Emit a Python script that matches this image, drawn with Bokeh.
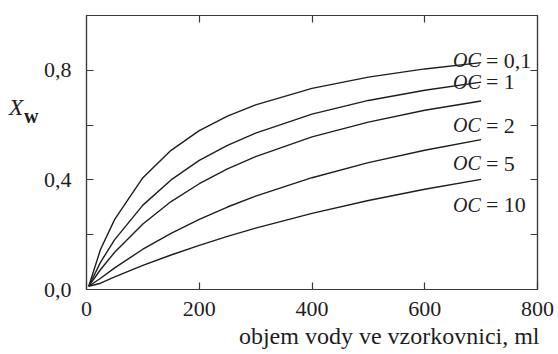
from bokeh.plotting import figure
from bokeh.models import FixedTicker, LinearAxis, Range1d, ColumnDataSource
from bokeh.core.properties import value
from bokeh.embed import file_html
from bokeh.resources import INLINE

# volume of water in the sampler (ml) and X_w for each OC
volume = [4, 25, 50, 100, 150, 200, 250, 300, 400, 500, 600, 700]
xw_oc01 = [0.012, 0.147, 0.256, 0.408, 0.508, 0.580, 0.633, 0.674, 0.734, 0.775, 0.805, 0.828]
xw_oc1 = [0.012, 0.100, 0.182, 0.308, 0.400, 0.471, 0.526, 0.571, 0.640, 0.690, 0.727, 0.757]
xw_oc2 = [0.012, 0.073, 0.136, 0.239, 0.321, 0.386, 0.440, 0.485, 0.557, 0.611, 0.654, 0.688]
xw_oc5 = [0.012, 0.041, 0.079, 0.147, 0.205, 0.256, 0.301, 0.341, 0.408, 0.463, 0.508, 0.547]
xw_oc10 = [0.012, 0.023, 0.046, 0.088, 0.126, 0.161, 0.194, 0.224, 0.278, 0.325, 0.366, 0.402]
oc_values = ["0,1", "1", "2", "5", "10"]

x_ticks = [0, 200, 400, 600, 800]
x_tick_labels = {0: "0", 200: "200", 400: "400", 600: "600", 800: "800"}
y_ticks = [0.0, 0.2, 0.4, 0.6, 0.8]
y_tick_labels = {0.0: "0,0", 0.2: "", 0.4: "0,4", 0.6: "", 0.8: "0,8"}
inner_x_ticks = [200, 400, 600]
inner_y_ticks = [0.2, 0.4, 0.6, 0.8]

x_title = "objem vody ve vzorkovnici, ml"
y_title_main = "X"
y_title_sub = "w"

FONT = "'Liberation Serif', Tinos, 'Times New Roman', Times, serif"
INK = "#1e1e1e"
FRAME = "#3a3a3a"

p = figure(width=558, height=354, x_range=Range1d(0, 800), y_range=Range1d(0, 1.0),
           output_backend="svg", toolbar_location=None,
           min_border_left=86, min_border_right=21, min_border_top=15, min_border_bottom=65)
p.grid.visible = False
p.outline_line_color = FRAME
p.outline_line_width = 1.2
p.background_fill_color = "white"
p.border_fill_color = "white"

def style_axis(ax, ticks, overrides, show_labels=True):
    ax.ticker = FixedTicker(ticks=ticks)
    ax.axis_line_color = FRAME
    ax.axis_line_width = 1.2
    ax.major_tick_line_color = FRAME
    ax.major_tick_line_width = 1.2
    ax.major_tick_in = 7
    ax.major_tick_out = 0
    ax.minor_tick_line_color = None
    ax.major_label_overrides = overrides
    if show_labels:
        ax.major_label_text_font = FONT
        ax.major_label_text_font_size = "22px"
        ax.major_label_text_color = INK
    else:
        ax.major_label_text_font_size = "1px"
        ax.major_label_standoff = 0

style_axis(p.xaxis[0], x_ticks, x_tick_labels)
p.xaxis[0].major_label_standoff = 12
style_axis(p.yaxis[0], y_ticks, y_tick_labels)
p.yaxis[0].major_label_standoff = 15

top_axis = LinearAxis()
style_axis(top_axis, inner_x_ticks, {t: "" for t in inner_x_ticks}, show_labels=False)
p.add_layout(top_axis, "above")
right_axis = LinearAxis()
style_axis(right_axis, inner_y_ticks, {t: "" for t in inner_y_ticks}, show_labels=False)
p.add_layout(right_axis, "right")

def title_axis(pos, text, size, style, standoff):
    ax = LinearAxis(ticker=FixedTicker(ticks=[pos]), major_label_overrides={pos: text})
    ax.axis_line_color = None
    ax.major_tick_line_color = None
    ax.minor_tick_line_color = None
    ax.major_tick_in = 0
    ax.major_tick_out = 0
    ax.major_label_standoff = standoff
    ax.major_label_text_font = FONT
    ax.major_label_text_font_size = size
    ax.major_label_text_font_style = style
    ax.major_label_text_color = INK
    return ax

# x title as a label-only axis below the tick labels
p.add_layout(title_axis(537, x_title, "24px", "normal", 4), "below")
# y title X_w: subscript w (nearer) and italic X (outer)
p.add_layout(title_axis(0.635, y_title_sub, "20px", "bold", 2), "left")
p.add_layout(title_axis(0.666, y_title_main, "24px", "italic", -2), "left")

series = [xw_oc01, xw_oc1, xw_oc2, xw_oc5, xw_oc10]
for ys in series:
    p.line(volume, ys, line_color=INK, line_width=1.4)

# curve labels "OC = ..."
label_x = 650
label_y = [0.837, 0.758, 0.600, 0.460, 0.310]
src = ColumnDataSource(dict(x=[label_x] * len(oc_values), y=label_y,
                            oc=["OC"] * len(oc_values),
                            rest=["= " + v for v in oc_values]))
p.text(x="x", y="y", text="oc", source=src, text_font=value(FONT), text_font_style="italic",
       text_font_size="20px", text_color=INK, text_align="left", text_baseline="alphabetic")
p.text(x="x", y="y", text="rest", source=src, text_font=value(FONT),
       text_font_size="22px", text_color=INK, text_align="left", text_baseline="alphabetic",
       x_offset=33)

open("out.html", "w").write(file_html(p, INLINE))
